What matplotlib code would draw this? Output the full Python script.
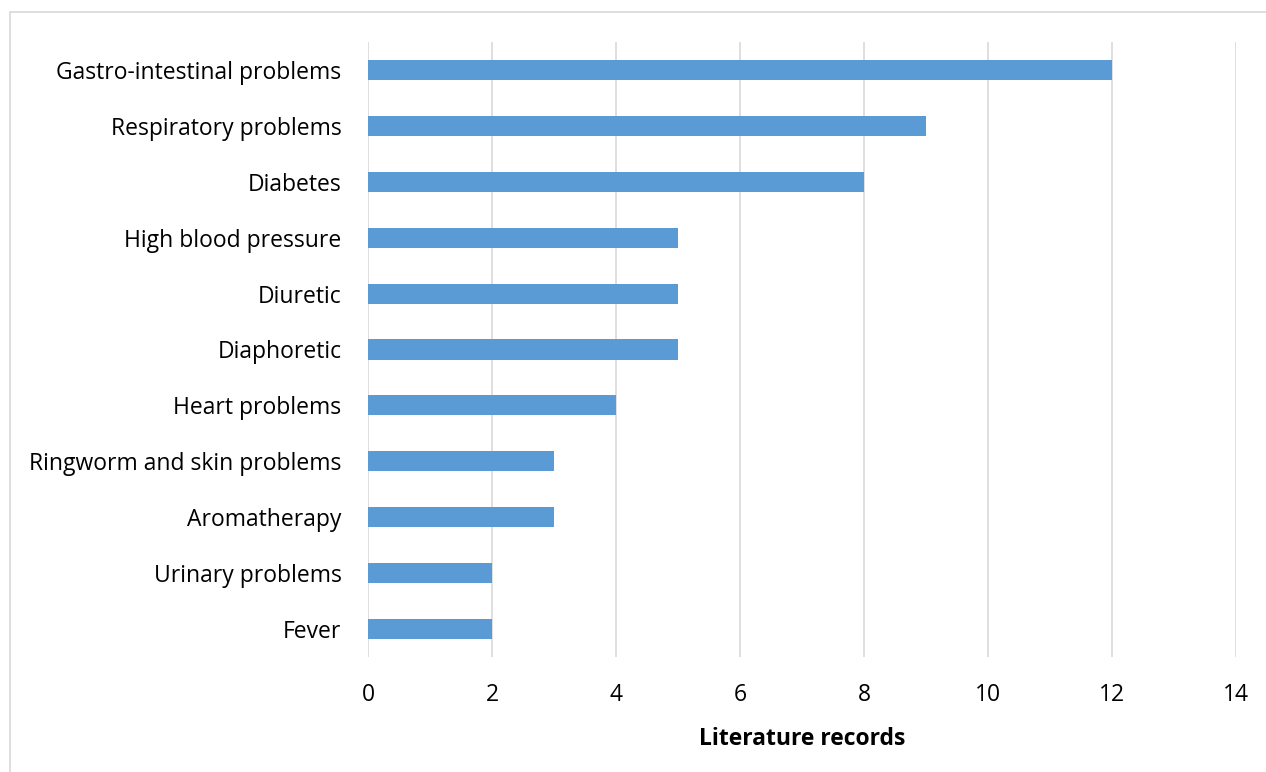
import matplotlib.pyplot as plt
from matplotlib.patches import Rectangle

categories = ["Gastro-intestinal problems", "Respiratory problems", "Diabetes",
              "High blood pressure", "Diuretic", "Diaphoretic", "Heart problems",
              "Ringworm and skin problems", "Aromatherapy", "Urinary problems", "Fever"]
records = [12, 9, 8, 5, 5, 5, 4, 3, 3, 2, 2]
xticks = [0, 2, 4, 6, 8, 10, 12, 14]

plt.rcParams['font.family'] = ['Open Sans', 'DejaVu Sans']

fig = plt.figure(figsize=(12.66, 7.72), dpi=100)
ax = fig.add_axes([368/1266, 1-657/772, (1236-368)/1266, (657-42)/772])

# outer chart border (only top and left visible in the reference)
fig.patches.append(Rectangle((10/1266, -0.1), 1.2, 1-12/772+0.1, transform=fig.transFigure,
                             fill=False, edgecolor="#d9d9d9", linewidth=1.2))

y = list(range(len(categories)))
ax.barh(y, records, height=0.36, color="#5b9bd5", zorder=3)
ax.set_ylim(len(categories)-0.5, -0.5)
ax.set_yticks(y)
ax.set_yticklabels(categories, fontsize=16.5)
ax.set_xlim(0, 14)
ax.set_xticks(xticks)
ax.set_xticklabels([str(t) for t in xticks], fontsize=16.5)
ax.grid(axis="x", color="#d9d9d9", linewidth=1.2, zorder=0)
for s in ax.spines.values():
    s.set_visible(False)
ax.tick_params(length=0)
ax.tick_params(axis="y", pad=19)
ax.tick_params(axis="x", pad=19)
ax.set_xlabel("Literature records", fontsize=16.5, fontweight="bold", labelpad=14)

fig.savefig("out.png", dpi=100)
